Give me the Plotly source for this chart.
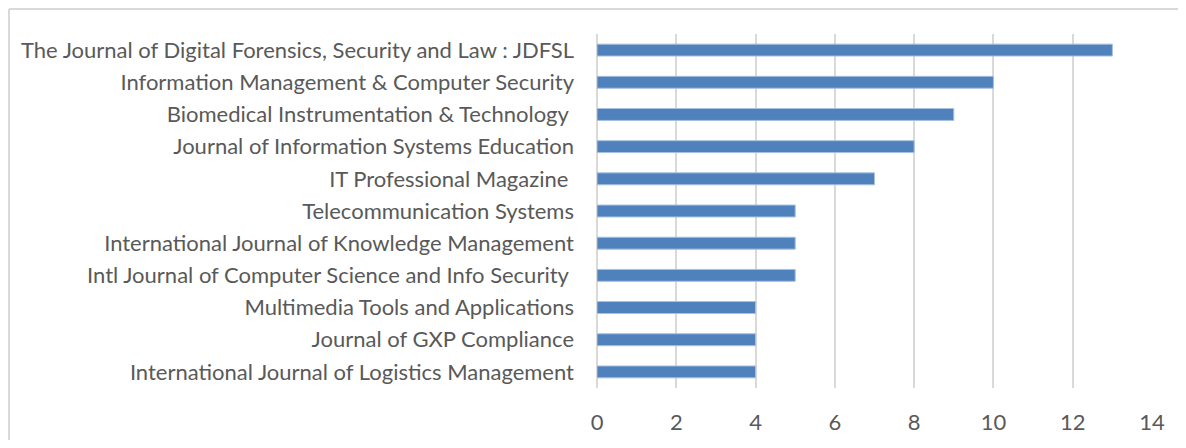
import plotly.graph_objects as go

journals = [
    "International Journal of Logistics Management",
    "Journal of GXP Compliance",
    "Multimedia Tools and Applications",
    "Intl Journal of Computer Science and Info Security ",
    "International Journal of Knowledge Management",
    "Telecommunication Systems",
    "IT Professional Magazine ",
    "Journal of Information Systems Education",
    "Biomedical Instrumentation & Technology ",
    "Information Management & Computer Security",
    "The Journal of Digital Forensics, Security and Law : JDFSL",
]
counts = [4, 4, 4, 5, 5, 5, 7, 8, 9, 10, 13]
x_ticks = [0, 2, 4, 6, 8, 10, 12, 14]

labels = [j.replace(" ", "\u00a0") for j in journals]

# page body has an 8px margin, so figure coordinates are offset by 8px
W, H = 1170, 432
L, R, T, B = 589, 26, 26, 52
pw, ph = W - L - R, H - T - B

px = lambda p: (p - L) / pw          # figure pixel x -> paper x
py = lambda p: 1 - (p - T) / ph      # figure pixel y -> paper y

fig = go.Figure(go.Bar(
    x=counts, y=labels, orientation="h", width=0.37,
    marker=dict(color="#4f81bd", line=dict(color="#a7c0e0", width=1)),
))

border = dict(color="#d9d9d9", width=2)
fig.update_layout(
    width=W, height=H,
    margin=dict(l=L, r=R, t=T, b=B, pad=0, autoexpand=False),
    paper_bgcolor="white", plot_bgcolor="white",
    font=dict(family="Lato, Open Sans, sans-serif", size=22, color="#595959"),
    showlegend=False,
    xaxis=dict(range=[0, 14], tickvals=x_ticks, ticktext=[str(v) for v in x_ticks],
               showgrid=True, gridcolor="#d9d9d9", gridwidth=2,
               zeroline=True, zerolinecolor="#d9d9d9", zerolinewidth=2,
               showline=False, ticks="", ticklabelstandoff=19, fixedrange=True,
               automargin=False),
    yaxis=dict(showgrid=False, zeroline=False, showline=False, ticks="",
               ticklabelstandoff=22, fixedrange=True, automargin=False),
    shapes=[
        dict(type="line", xref="paper", yref="paper",
             x0=px(1), x1=px(W), y0=py(1), y1=py(1), line=border, layer="below"),
        dict(type="line", xref="paper", yref="paper",
             x0=px(1), x1=px(1), y0=py(1), y1=py(H), line=border, layer="below"),
    ],
)

fig.write_html("out.html")
